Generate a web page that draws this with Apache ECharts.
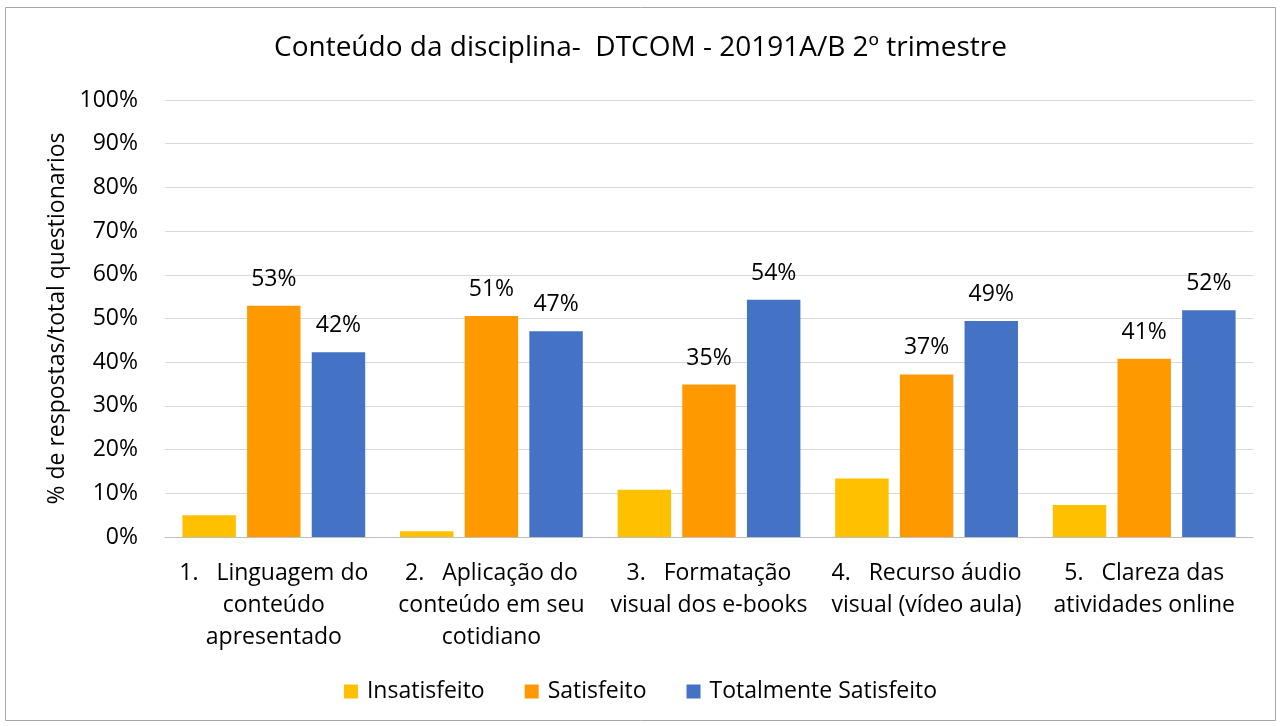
<!DOCTYPE html>
<html>
<head>
<meta charset="utf-8">
<script src="https://cdn.jsdelivr.net/npm/echarts@6/dist/echarts.min.js"></script>
<style>
html, body { margin: 0; padding: 0; background: #fff; }
#chart { width: 1281px; height: 726px; }
</style>
</head>
<body>
<div id="chart"></div>
<script>
var categories = [
    '1.   Linguagem do\nconteúdo\napresentado',
    '2.   Aplicação do\nconteúdo em seu\ncotidiano',
    '3.   Formatação\nvisual dos e-books',
    '4.   Recurso áudio\nvisual (vídeo aula)',
    '5.   Clareza das\natividades online'
];
var insatisfeito = [5.0, 1.3, 10.8, 13.4, 7.3];
var satisfeito = [52.9, 50.6, 34.9, 37.2, 40.8];
var totalmente = [42.3, 47.1, 54.3, 49.4, 51.9];
var seriesNames = ['Insatisfeito', 'Satisfeito', 'Totalmente Satisfeito'];
var colors = ['#FFC000', '#FF9900', '#4472C4'];

var font = 'Open Sans, sans-serif';
var chart = echarts.init(document.getElementById('chart'));

var labelStyle = {
    show: true,
    position: 'top',
    distance: 15,
    color: '#000',
    fontSize: 23,
    fontFamily: font,
    formatter: function (p) {
        return Math.round(p.value) + '%';
    }
};

var option = {
    backgroundColor: '#fff',
    color: colors,
    animation: false,
    title: {
        text: 'Conteúdo da disciplina-  DTCOM - 20191A/B 2º trimestre',
        left: 'center',
        top: 29,
        textStyle: { fontSize: 28, fontWeight: 'normal', color: '#000', fontFamily: font }
    },
    graphic: [{
        type: 'rect',
        shape: { x: 5.5, y: 7.5, width: 1270, height: 713 },
        style: { fill: 'none', stroke: '#a6a6a6', lineWidth: 1 },
        silent: true
    }],
    legend: {
        bottom: 18,
        left: 'center',
        itemWidth: 14,
        itemHeight: 14,
        itemGap: 40,
        icon: 'rect',
        textStyle: { fontSize: 23, color: '#000', fontFamily: font, padding: [0, 0, 0, 4] },
        data: seriesNames
    },
    grid: { left: 165, right: 28, top: 100, bottom: 189 },
    xAxis: {
        type: 'category',
        data: categories,
        axisTick: { show: false },
        axisLine: { lineStyle: { color: '#bfbfbf', width: 1 } },
        axisLabel: {
            color: '#000',
            fontSize: 23,
            fontFamily: font,
            lineHeight: 32,
            margin: 20,
            interval: 0
        }
    },
    yAxis: {
        type: 'value',
        min: 0,
        max: 100,
        interval: 10,
        name: '% de respostas/total questionarios',
        nameLocation: 'middle',
        nameGap: 94,
        nameTextStyle: { fontSize: 23, color: '#000', fontFamily: font },
        axisLabel: {
            formatter: '{value}%',
            color: '#000',
            fontSize: 23,
            fontFamily: font,
            margin: 27
        },
        splitLine: { lineStyle: { color: '#d9d9d9', width: 1 } },
        axisLine: { show: false },
        axisTick: { show: false }
    },
    series: [
        {
            name: seriesNames[0],
            type: 'bar',
            data: insatisfeito,
            barGap: '21%',
            barCategoryGap: '16%'
        },
        {
            name: seriesNames[1],
            type: 'bar',
            data: satisfeito,
            label: labelStyle
        },
        {
            name: seriesNames[2],
            type: 'bar',
            data: totalmente,
            label: labelStyle
        }
    ]
};

chart.setOption(option);
</script>
</body>
</html>
